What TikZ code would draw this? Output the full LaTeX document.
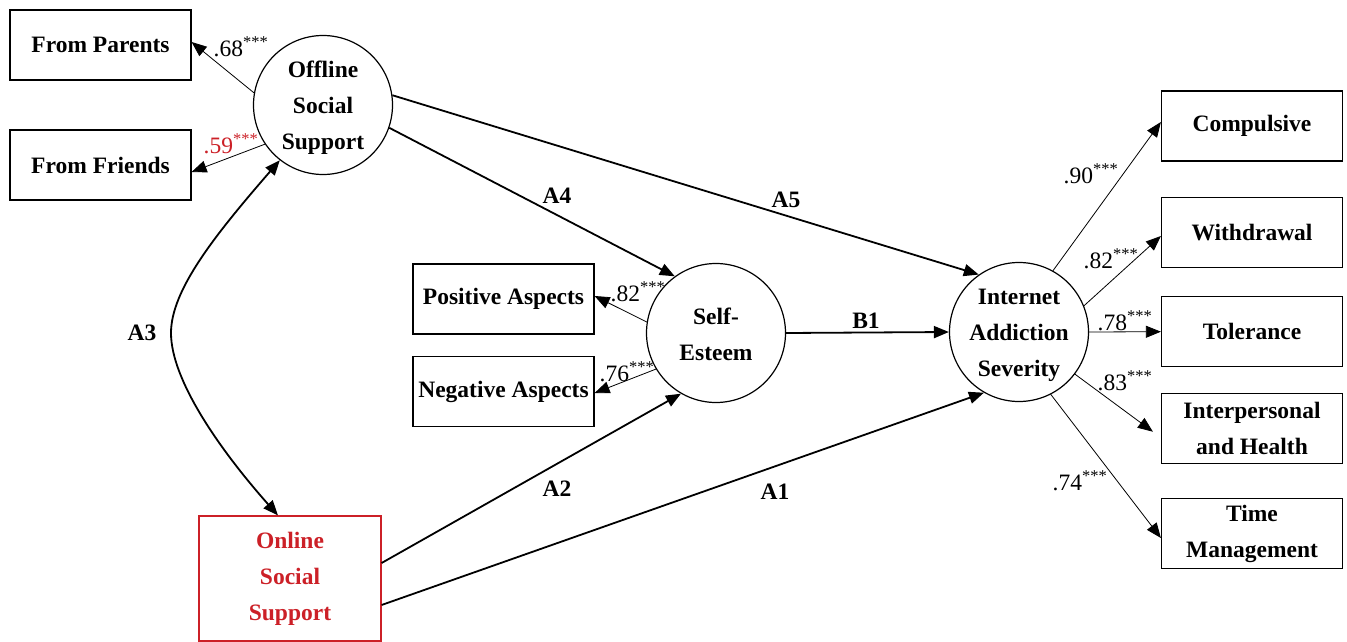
\documentclass[tikz,border=0pt]{standalone}
\usepackage{fontspec}
\setmainfont{Liberation Serif}
\usetikzlibrary{arrows.meta}
\definecolor{ared}{RGB}{204,32,39}
\begin{document}
\begin{tikzpicture}[x=1pt,y=-1pt,
  box/.style={draw,line width=1.2pt,minimum width=181pt,minimum height=70pt,inner sep=0pt,align=center,font=\fontsize{23.5}{36}\selectfont\bfseries},
  lat/.style={draw,circle,line width=1.2pt,minimum size=139pt,inner sep=0pt},
  lattext/.style={inner sep=0pt,align=center,font=\fontsize{23.5}{36}\selectfont\bfseries},
  load/.style={line width=0.8pt,-{Triangle[length=15pt,width=12pt]}},
  spath/.style={line width=1.8pt,-{Triangle[length=15pt,width=12pt]}},
  lbl/.style={font=\fontsize{23.5}{28}\selectfont\bfseries,inner sep=0pt},
  coef/.style={font=\fontsize{23.5}{28}\selectfont,inner sep=0pt}
]
\useasboundingbox (0,0) rectangle (1347,642);
\fill[white] (0,0) rectangle (1347,642);

% observed indicators
\node[box] (par) at (100.5,45) {From Parents};
\node[box] (fri) at (100.5,165) {From Friends};
\node[box] (pos) at (503.5,299) {Positive Aspects};
\node[box] (neg) at (503.5,391.5) {Negative Aspects};
\node[box] (comp) at (1252,126) {Compulsive};
\node[box] (withd) at (1252,232.5) {Withdrawal};
\node[box] (tol) at (1252,331.7) {Tolerance};
\node[box] (inter) at (1252,428.7) {Interpersonal\\and Health};
\node[box] (timem) at (1252,533.7) {Time\\Management};
\node[box,draw=ared,text=ared,minimum width=182pt,minimum height=125pt] (onl) at (290,578.5) {Online\\Social\\Support};

% latent variables
\node[lat] (off) at (323,105) {};
\node[lattext] (offT) at (323,108) {Offline\\Social\\Support};
\node[lat] (se) at (716,333) {};
\node[lattext] (seT) at (716,334) {Self-\\Esteem};
\node[lat] (ias) at (1019,332) {};
\node[lattext] (iasT) at (1019,335) {Internet\\Addiction\\Severity};

% loadings
\draw[load] (off.170) -- ([yshift=3pt]par.east);
\draw[load] (off.214) -- ([yshift=-7pt]fri.east);
\draw[load] (se.171) -- ([yshift=3pt]pos.east);
\draw[load] (se.211) -- ([yshift=-1.5pt]neg.east);
\draw[load] (ias.61) -- ([yshift=4pt]comp.west);
\draw[load] (ias.22) -- ([yshift=-3.5pt]withd.west);
\draw[load] (ias.0) -- (tol.west);
\draw[load] (ias.-37) -- ([xshift=-8pt,yshift=-3pt]inter.west);
\draw[load] (ias.-63) -- ([yshift=-4.3pt]timem.west);

% structural paths
\draw[spath] (off.-19) -- (se.126);
\draw[spath] (off.8) -- (ias.125);
\draw[spath] ([yshift=15.5pt]onl.east) -- (se.240);
\draw[spath] ([yshift=-26.5pt]onl.east) -- (ias.240);
\draw[spath] (se.0) -- (ias.180);
\coordinate (a3mid) at (171,333);
\draw[line width=1.8pt,{Triangle[length=15pt,width=12pt]}-{Triangle[length=15pt,width=12pt]}]
  (off.232) .. controls (215,235) and (171,290) .. (a3mid)
  .. controls (171,380) and (220,450) .. ([xshift=-12pt]onl.north);

% path labels
\node[lbl] (la4) at (557,196) {A4};
\node[lbl] (la5) at (786,200) {A5};
\node[lbl] (la3) at (142,333) {A3};
\node[lbl] (la2) at (557,489) {A2};
\node[lbl] (la1) at (775,492) {A1};
\node[lbl] (lb1) at (866,321) {B1};

% coefficients
\node[coef] (c1) at (241,47) {.68\textsuperscript{***}};
\node[coef,text=ared] (c2) at (231,144) {.59\textsuperscript{***}};
\node[coef] (c3) at (638,292) {.82\textsuperscript{***}};
\node[coef] (c4) at (627,372) {.76\textsuperscript{***}};
\node[coef] (c5) at (1091,174) {.90\textsuperscript{***}};
\node[coef] (c6) at (1111,259) {.82\textsuperscript{***}};
\node[coef] (c7) at (1125,321) {.78\textsuperscript{***}};
\node[coef] (c8) at (1125,381) {.83\textsuperscript{***}};
\node[coef] (c9) at (1080,481) {.74\textsuperscript{***}};
\end{tikzpicture}
\end{document}
